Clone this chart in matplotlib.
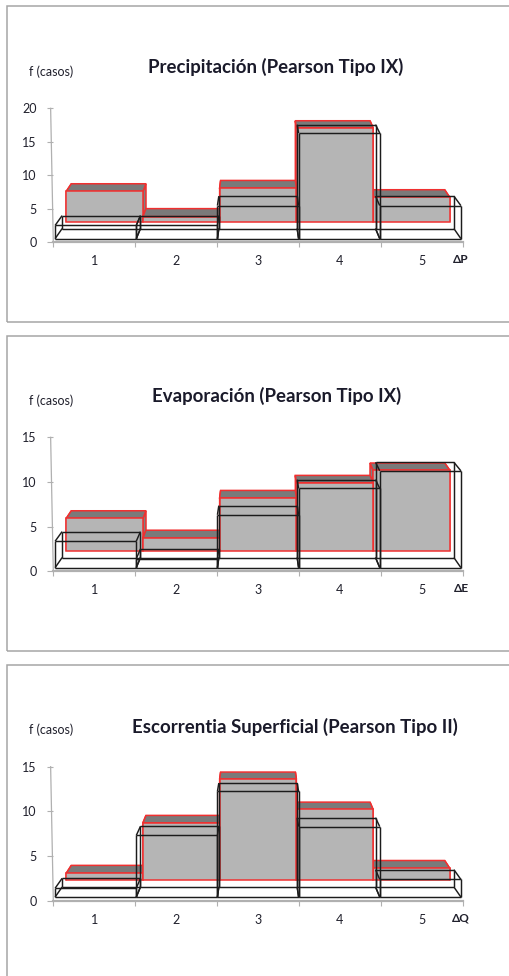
import matplotlib
matplotlib.use("Agg")
import matplotlib.pyplot as plt
from matplotlib.patches import Rectangle, Polygon

plt.rcParams['font.family'] = ['Lato', 'DejaVu Sans']

W, H, DPI = 510, 976, 100

categories = [1, 2, 3, 4, 5]

titles = ["Precipitación (Pearson Tipo IX)",
          "Evaporación (Pearson Tipo IX)",
          "Escorrentia Superficial (Pearson Tipo II)"]
x_names = ["ΔP", "ΔE", "ΔQ"]
y_name = "f (casos)"
y_maxes = [20, 15, 15]
y_steps = [5, 5, 5]

precip_theoretical = [4.5, 0.75, 5.0, 14.0, 3.6]
precip_observed = [2, 2, 5, 16, 5]
evap_theoretical = [3.6, 1.4, 5.9, 7.6, 9.0]
evap_observed = [3, 1, 6, 9, 11]
runoff_theoretical = [0.75, 6.4, 11.3, 7.9, 1.3]
runoff_observed = [1, 7, 12, 8, 2]

theoretical = [precip_theoretical, evap_theoretical, runoff_theoretical]
observed = [precip_observed, evap_observed, runoff_observed]

# layout in pixels: (frame top, frame bottom, axis zero y, axis top y, title x, title y, ylabel y)
panels = [
    (6.0, 321.7, 242.3, 108.3, 276, 67, 71.5),
    (335.7, 651.3, 571.3, 437.3, 277, 396, 401),
    (664.7, 990, 900.7, 766.7, 295, 727, 730),
]
AX_L, AX_R = 53.3, 462.7

# depth planes: (x shrink, base lift in px, height factor)
BLACK_FRONT = (0.991, 3.7, 0.985)
BLACK_BACK = (0.957, 13.7, 0.97)
RED_FRONT = (0.937, 20.7, 1.0)
RED_BACK = (0.912, 28.7, 0.99)

fig = plt.figure(figsize=(W / DPI, H / DPI), dpi=DPI)
fig.patch.set_facecolor('white')

TXT = '#20202c'
GRID = '#b0b0b0'


def fy(y):
    return 1 - y / H


for k, (ftop, fbot, y0, y1, tx, ty, ly) in enumerate(panels):
    fig.add_artist(Rectangle((7.3 / W, fy(fbot)), 1.2, (fbot - ftop) / H,
                             transform=fig.transFigure, fill=False,
                             ec='#a6a6a6', lw=1.1, clip_on=False))
    ax = fig.add_axes([AX_L / W, fy(y0), (AX_R - AX_L) / W, (y0 - y1) / H])
    ax.set_xlim(0, 5)
    ax.set_ylim(0, y_maxes[k])
    ax.patch.set_alpha(0)
    px_per_unit = (y0 - y1) / y_maxes[k]

    def pt(i, v, plane):
        xs, lift, ys = plane
        return (2.5 + (i - 2.5) * xs, lift / px_per_unit + v * ys)

    # theoretical series: solid grey bars with red edges
    red = dict(ec='#f03030', lw=1.1, clip_on=False, joinstyle='miter')
    for j in [0, 4, 1, 3, 2]:
        v = theoretical[k][j]
        a, b = j, j + 1
        ax.add_patch(Polygon([pt(a, v, RED_FRONT), pt(a, v, RED_BACK), pt(a, 0, RED_BACK),
                              pt(a, 0, RED_FRONT)], fc='#808080', **red))
        ax.add_patch(Polygon([pt(b, v, RED_FRONT), pt(b, v, RED_BACK), pt(b, 0, RED_BACK),
                              pt(b, 0, RED_FRONT)], fc='#808080', **red))
        ax.add_patch(Polygon([pt(a, v, RED_FRONT), pt(b, v, RED_FRONT), pt(b, v, RED_BACK),
                              pt(a, v, RED_BACK)], fc='#7a7a7a', **red))
        ax.add_patch(Polygon([pt(a, 0, RED_FRONT), pt(b, 0, RED_FRONT), pt(b, v, RED_FRONT),
                              pt(a, v, RED_FRONT)], fc='#b5b5b5', **red))

    # observed series: wireframe boxes
    def seg(p, q):
        ax.plot([p[0], q[0]], [p[1], q[1]], color='#1c1c1c', lw=1.05,
                clip_on=False, solid_capstyle='butt', zorder=5)

    for j, v in enumerate(observed[k]):
        a, b = j, j + 1
        for plane in (BLACK_BACK, BLACK_FRONT):
            corners = [pt(a, 0, plane), pt(b, 0, plane), pt(b, v, plane), pt(a, v, plane)]
            for c in range(4):
                seg(corners[c], corners[(c + 1) % 4])
        for x_i in (a, b):
            for val in (0, v):
                seg(pt(x_i, val, BLACK_FRONT), pt(x_i, val, BLACK_BACK))

    # axes
    for s in ('top', 'right', 'left'):
        ax.spines[s].set_visible(False)
    ax.spines['bottom'].set_color(GRID)
    ax.spines['bottom'].set_linewidth(1.6)
    ax.plot([0, -8 / 3 / ((AX_R - AX_L) / 5)], [0, y_maxes[k]], color=GRID, lw=0.9,
            clip_on=False, zorder=1)
    ax.set_yticks(range(0, y_maxes[k] + 1, y_steps[k]))
    ax.tick_params(axis='y', length=4.3, width=0.8, color=GRID, pad=7.5,
                   labelsize=9, labelcolor=TXT)
    ax.set_xticks(range(0, len(categories) + 1))
    ax.set_xticklabels([])
    ax.tick_params(axis='x', which='major', length=3.5, width=0.8, color=GRID)
    ax.set_xticks([c - 0.5 for c in categories], minor=True)
    ax.set_xticklabels([str(c) for c in categories], minor=True)
    ax.tick_params(axis='x', which='minor', length=0, pad=9.5, labelsize=9, labelcolor=TXT)

    fig.text(461 / W, fy(y0 + 17), x_names[k], ha='center', va='center',
             fontsize=8.5, fontweight='bold', color=TXT)
    fig.text(29 / W, fy(ly), y_name, ha='left', va='center', fontsize=9, color=TXT)
    fig.text(tx / W, fy(ty), titles[k], ha='center', va='center', fontsize=13.4,
             fontweight='bold', color='#1a1a2a')

fig.savefig('out.png', dpi=DPI, facecolor='white')
